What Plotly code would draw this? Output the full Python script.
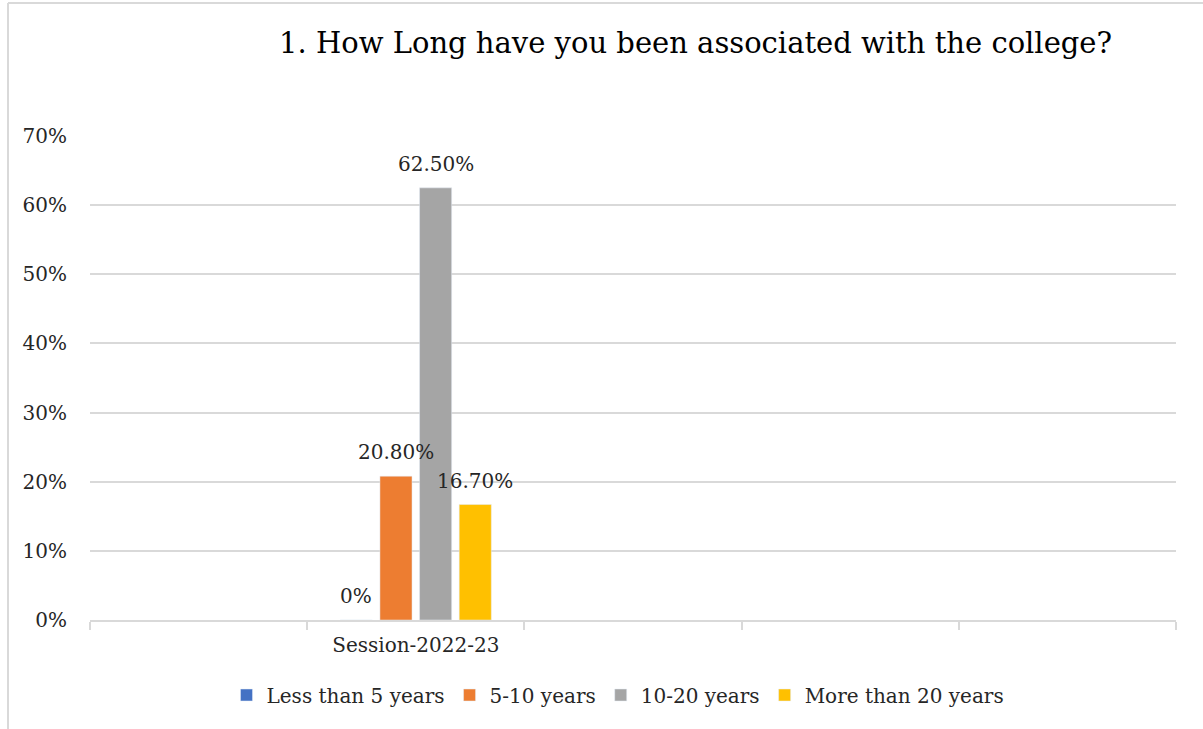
import plotly.graph_objects as go

# Survey results: length of association with the college
session_labels = ["Session-2022-23"]
series_names = ["Less than 5 years", "5-10 years", "10-20 years", "More than 20 years"]
series_values = [0.0, 0.208, 0.625, 0.167]
series_colors = ["#4472C4", "#ED7D31", "#A5A5A5", "#FFC000"]
y_tick_vals = [0, 0.1, 0.2, 0.3, 0.4, 0.5, 0.6, 0.7]
y_tick_text = ["0%", "10%", "20%", "30%", "40%", "50%", "60%", "70%"]

FONT = "DejaVu Serif"
FS = 20
TXT = "#262626"
W, H = 1203, 729
ML, MR, MT, MB = 90, 27, 136, 109
PW, PH = W - ML - MR, H - MT - MB
BARGAP, GROUPGAP = 0.27, 0.19


def px_x(p):
    return (p - ML) / PW


def px_y(p):
    return (H - MB - p) / PH


def fmt(v):
    return "0%" if v == 0 else f"{v * 100:.2f}%"


fig = go.Figure()
for name, val, col in zip(series_names, series_values, series_colors):
    fig.add_trace(go.Bar(name=name, x=[1], y=[val], marker_color=col))

# Value labels above each bar in the group
n = len(series_values)
slot = (1 - BARGAP) / n
for i, val in enumerate(series_values):
    fig.add_annotation(
        x=1 + (i - (n - 1) / 2) * slot, y=val,
        text=fmt(val), showarrow=False,
        xanchor="center", yanchor="bottom", yshift=10,
        font=dict(family=FONT, size=FS, color=TXT),
    )

grid_col = "#D9D9D9"
fig.update_layout(
    width=W, height=H,
    margin=dict(l=ML, r=MR, t=MT, b=MB),
    paper_bgcolor="white", plot_bgcolor="white",
    barmode="group", bargap=BARGAP, bargroupgap=GROUPGAP,
    font=dict(family=FONT, size=FS, color=TXT),
    xaxis=dict(
        range=[-0.5, 4.5],
        tickvals=[1], ticktext=session_labels,
        ticks="", showgrid=False, zeroline=False,
        showline=True, linecolor=grid_col, linewidth=1.5,
        ticklabelstandoff=6,
        tickfont=dict(family=FONT, size=FS, color=TXT),
        minor=dict(ticks="outside", tick0=-0.5, dtick=1, ticklen=8,
                   tickcolor=grid_col, tickwidth=1.5, showgrid=False),
    ),
    yaxis=dict(
        range=[0, 0.7],
        tickvals=y_tick_vals, ticktext=y_tick_text,
        showgrid=True, gridcolor=grid_col, gridwidth=1.5,
        zeroline=False, showline=False, ticks="",
        ticklabelstandoff=22,
        tickfont=dict(family=FONT, size=FS, color=TXT),
    ),
    legend=dict(
        orientation="h", x=px_x(618), xanchor="center",
        y=px_y(695), yanchor="middle",
        font=dict(family=FONT, size=FS, color=TXT),
        itemwidth=30, traceorder="normal",
    ),
    showlegend=True,
)

fig.add_annotation(
    text="1. How Long have you been associated with the college?",
    xref="paper", yref="paper", x=px_x(695), y=px_y(43),
    xanchor="center", yanchor="middle", showarrow=False,
    font=dict(family=FONT, size=29, color="#000000"),
)

# Chart area border (left and top edges)
fig.add_shape(type="line", xref="paper", yref="paper",
              x0=px_x(8), x1=px_x(8), y0=px_y(3), y1=px_y(729),
              line=dict(color=grid_col, width=2))
fig.add_shape(type="line", xref="paper", yref="paper",
              x0=px_x(8), x1=px_x(1203), y0=px_y(3), y1=px_y(3),
              line=dict(color=grid_col, width=2))

fig.write_html("out.html")
